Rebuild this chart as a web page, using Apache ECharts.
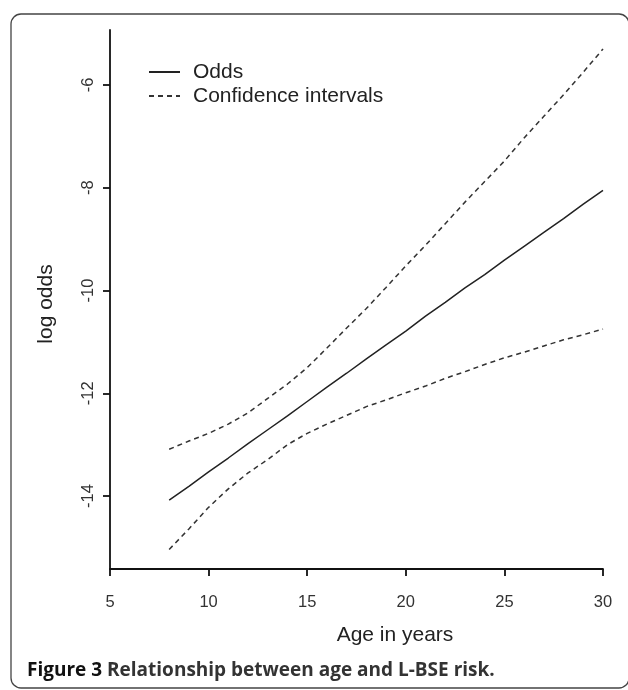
<!DOCTYPE html>
<html>
<head>
<meta charset="utf-8">
<script src="https://cdn.jsdelivr.net/npm/echarts@6/dist/echarts.min.js"></script>
<style>
html,body{margin:0;padding:0;background:#fff;}
#c{width:628px;height:690px;}
</style>
</head>
<body>
<div id="c"></div>
<script>
var ages = [8,9,10,11,12,13,14,15,16,17,18,19,20,21,22,23,24,25,26,27,28,29,30];
var odds = [-14.08,-13.81,-13.53,-13.26,-12.98,-12.71,-12.44,-12.16,-11.88,-11.61,-11.33,-11.06,-10.79,-10.50,-10.23,-9.95,-9.69,-9.41,-9.14,-8.87,-8.60,-8.32,-8.05];
var ciUpper = [-13.09,-12.93,-12.78,-12.60,-12.38,-12.10,-11.82,-11.50,-11.12,-10.73,-10.35,-9.94,-9.52,-9.12,-8.70,-8.28,-7.88,-7.48,-7.03,-6.61,-6.19,-5.75,-5.30];
var ciLower = [-15.04,-14.64,-14.22,-13.86,-13.55,-13.29,-13.00,-12.78,-12.60,-12.43,-12.26,-12.13,-11.99,-11.86,-11.71,-11.58,-11.44,-11.31,-11.20,-11.08,-10.96,-10.86,-10.75];
var yTicks = [-14,-12,-10,-8,-6];
var xTicks = [5,10,15,20,25,30];
var seriesNames = ['Odds','Confidence intervals'];
var xTitle = 'Age in years';
var yTitle = 'log odds';
var captionLead = 'Figure 3';
var captionRest = ' Relationship between age and L-BSE risk.';

function pairs(v){ return ages.map(function(a,i){ return [a, v[i]]; }); }

var chart = echarts.init(document.getElementById('c'), null, {renderer:'canvas'});
var fontFam = '"Liberation Sans", Arial, Helvetica, sans-serif';
chart.setOption({
  animation:false,
  backgroundColor:'#fff',
  grid:{left:110, right:25, top:30, bottom:121},
  legend:{
    data:seriesNames,
    orient:'vertical',
    left:148, top:61, padding:0,
    itemWidth:31, itemHeight:14, itemGap:2,
    align:'left',
    itemStyle:{opacity:0},
    textStyle:{fontFamily:fontFam, fontSize:21, color:'#222', lineHeight:22, padding:[0,0,0,8]}
  },
  xAxis:{
    type:'value', min:xTicks[0], max:xTicks[xTicks.length-1], interval:5,
    axisLine:{show:true, lineStyle:{color:'#111', width:1.8}},
    axisTick:{show:true, length:7, lineStyle:{color:'#111', width:1.8}},
    axisLabel:{fontFamily:fontFam, fontSize:16.5, color:'#333', margin:25},
    splitLine:{show:false}
  },
  yAxis:{
    type:'value', min:-15.42, max:-4.93,
    axisLine:{show:true, lineStyle:{color:'#111', width:1.8}},
    axisTick:{show:true, length:7, customValues:yTicks, lineStyle:{color:'#111', width:1.8}},
    axisLabel:{fontFamily:fontFam, fontSize:16.5, color:'#333', rotate:90, margin:13, customValues:yTicks},
    splitLine:{show:false}
  },
  series:[
    {name:seriesNames[0], type:'line', data:pairs(odds), symbol:'none', lineStyle:{color:'#222', width:1.5, type:'solid'}, itemStyle:{color:'#222'}},
    {name:seriesNames[1], type:'line', data:pairs(ciUpper), symbol:'none', lineStyle:{color:'#333', width:1.5, type:[5,4]}, itemStyle:{color:'#333'}},
    {name:seriesNames[1], type:'line', data:pairs(ciLower), symbol:'none', lineStyle:{color:'#333', width:1.5, type:[5,4]}, itemStyle:{color:'#333'}}
  ],
  graphic:[
    {type:'rect', shape:{x:11, y:14, width:618, height:674, r:10}, style:{fill:'none', stroke:'#444', lineWidth:1.3}, silent:true, z:-1},
    {type:'text', x:395, y:635, style:{text:xTitle, fontFamily:fontFam, fontSize:21, fill:'#222', align:'center', verticalAlign:'middle'}},
    {type:'text', x:46, y:304, rotation:Math.PI/2, style:{text:yTitle, fontFamily:fontFam, fontSize:21, fill:'#222', align:'center', verticalAlign:'middle'}},
    {type:'text', x:27, y:671, style:{
      text:'{a|'+captionLead+'}{b|'+captionRest+'}',
      verticalAlign:'middle', align:'left',
      rich:{
        a:{fontFamily:'"Open Sans", sans-serif', fontWeight:'bold', fontSize:19, fill:'#111'},
        b:{fontFamily:'"Open Sans", sans-serif', fontWeight:'bold', fontSize:19, fill:'#333'}
      }
    }}
  ]
});
</script>
</body>
</html>
